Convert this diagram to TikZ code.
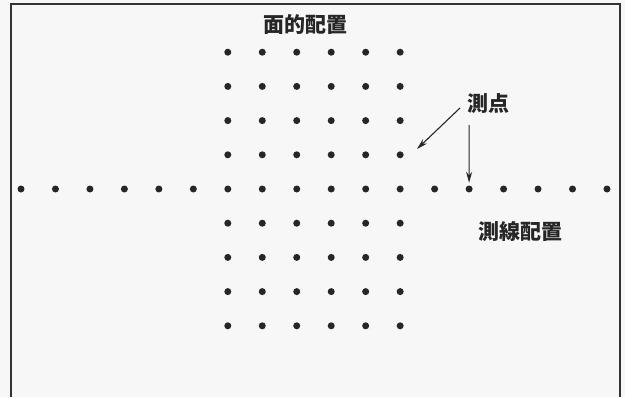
\documentclass[tikz,border=0pt]{standalone}
\usepackage{fontspec}
\newfontfamily\cjk{Noto Sans CJK JP}
\usetikzlibrary{arrows.meta}
\begin{document}
\begin{tikzpicture}[x=1pt,y=-1pt,
  dot/.style={circle,fill=black!85,inner sep=0pt,minimum size=7pt},
  lbl/.style={font=\cjk\bfseries\fontsize{21}{21}\selectfont, text=black!85, inner sep=0pt},
  arr/.style={-{Stealth[length=11pt,width=6pt]}, line width=1.1pt, draw=black!85},
  frameline/.style={line width=2pt, draw=black!80}]
\fill[gray!6] (0,0) rectangle (625,397);
\useasboundingbox (0,0) rectangle (625,397);
\draw[frameline] (11,397) -- (11,3.5) -- (620,3.5) -- (620,397);
\foreach \i in {0,...,17} \node[dot] (L\i) at ({21+\i*34.47},189) {};
\foreach \c in {0,...,5} \foreach \r in {1,...,4} {
  \node[dot] (T\c\r) at ({227.8+\c*34.47},{189-\r*34.2}) {};
  \node[dot] (B\c\r) at ({227.8+\c*34.47},{189+\r*34.2}) {};
}
\node[lbl] (t1) at (305.5,25) {面的配置};
\node[lbl] (t2) at (488,104) {測点};
\node[lbl] (t3) at (520,232) {測線配置};
\coordinate (a1s) at (460,108);
\coordinate (a1e) at (417,149);
\coordinate (a2s) at (469.1,125);
\draw[arr] (a1s) -- (a1e);
\draw[arr, shorten >=2.5pt] (a2s) -- (L13);
\end{tikzpicture}
\end{document}
